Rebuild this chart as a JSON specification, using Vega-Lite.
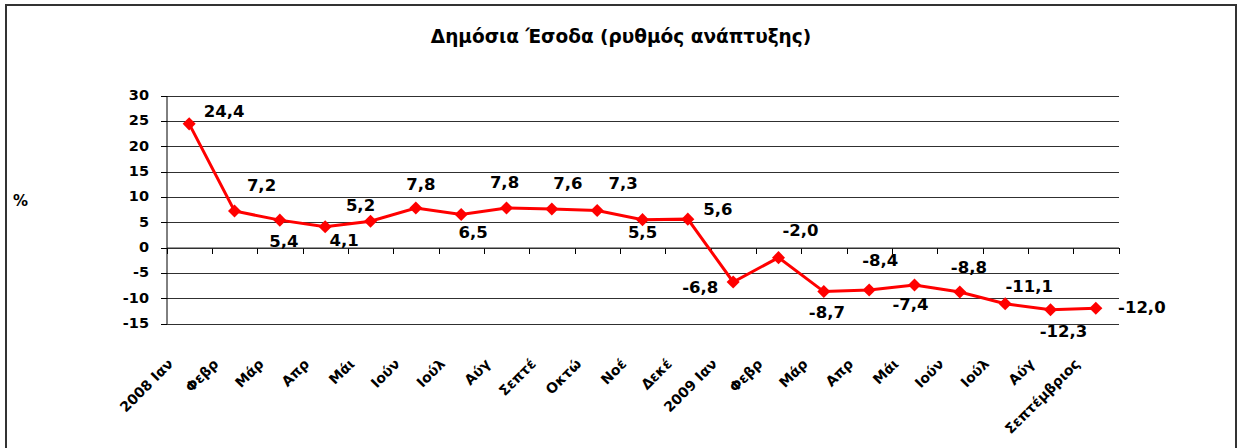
{
  "$schema": "https://vega.github.io/schema/vega-lite/v6.json",
  "width": 1230,
  "height": 445,
  "autosize": {"type": "none"},
  "padding": {"left": 6, "top": 5, "right": 2, "bottom": 0},
  "background": "white",
  "title": {
    "text": "Δημόσια Έσοδα (ρυθμός ανάπτυξης)",
    "anchor": "middle",
    "frame": "group",
    "offset": -56,
    "baseline": "alphabetic",
    "font": "DejaVu Sans",
    "fontSize": 18.5,
    "fontWeight": "bold",
    "color": "#000000"
  },
  "data": {
    "values": [
      {"month": "2008 Ιαν", "value": 24.4},
      {"month": "2008 Φεβρ", "value": 7.2},
      {"month": "2008 Μάρ", "value": 5.4},
      {"month": "2008 Απρ", "value": 4.1},
      {"month": "2008 Μάι", "value": 5.2},
      {"month": "2008 Ιούν", "value": 7.8},
      {"month": "2008 Ιούλ", "value": 6.5},
      {"month": "2008 Αύγ", "value": 7.8},
      {"month": "2008 Σεπτέ", "value": 7.6},
      {"month": "2008 Οκτώ", "value": 7.3},
      {"month": "2008 Νοέ", "value": 5.5},
      {"month": "2008 Δεκέ", "value": 5.6},
      {"month": "2009 Ιαν", "value": -6.8},
      {"month": "2009 Φεβρ", "value": -2.0},
      {"month": "2009 Μάρ", "value": -8.7},
      {"month": "2009 Απρ", "value": -8.4},
      {"month": "2009 Μάι", "value": -7.4},
      {"month": "2009 Ιούν", "value": -8.8},
      {"month": "2009 Ιούλ", "value": -11.1},
      {"month": "2009 Αύγ", "value": -12.3},
      {"month": "2009 Σεπτέμβριος", "value": -12.0}
    ]
  },
  "layer": [
    {
      "mark": {"type": "line", "color": "#FF0000", "strokeWidth": 3},
      "encoding": {
        "x": {
          "field": "month", "type": "ordinal", "sort": null, "bandPosition": 0.5,
          "scale": {"type": "band", "range": [160.5, 1112.5], "paddingInner": 0, "paddingOuter": 0},
          "axis": {
            "orient": "bottom", "offset": -126.5, "domain": false, "ticks": false, "grid": false, "title": null,
            "labelAngle": -45, "labelAlign": "right", "labelBaseline": "middle",
            "labelPadding": 38, "labelOffset": -18, "labelOverlap": false, "labelLimit": 300,
            "labelFont": "DejaVu Sans", "labelFontWeight": "bold", "labelFontSize": 14, "labelColor": "#000000",
            "labelExpr": "indexof(datum.label, 'Ιαν') >= 0 ? datum.label : substring(datum.label, 5)"
          }
        },
        "y": {
          "field": "value", "type": "quantitative",
          "scale": {"domain": [-15, 30], "range": [318.5, 90.5], "nice": false, "zero": false},
          "axis": {
            "values": [-15, -10, -5, 0, 5, 10, 15, 20, 25, 30],
            "offset": -160.5,
            "grid": true, "gridColor": "#303030", "gridWidth": 1, "gridOpacity": 1,
            "domain": true, "domainColor": "#000000", "domainWidth": 1,
            "ticks": true, "tickSize": 6, "tickColor": "#000000", "tickWidth": 1,
            "labelFont": "DejaVu Sans", "labelFontWeight": "bold", "labelFontSize": 14.5, "labelColor": "#000000",
            "labelPadding": 12,
            "title": "%", "titleAngle": 0, "titleX": -146.5, "titleY": 195,
            "titleAlign": "center", "titleBaseline": "middle",
            "titleFont": "DejaVu Sans", "titleFontSize": 15, "titleFontWeight": "bold", "titleColor": "#000000"
          }
        }
      }
    },
    {
      "mark": {"type": "point", "shape": "diamond", "filled": true, "color": "#FF0000", "size": 170, "opacity": 1},
      "encoding": {
        "x": {
          "field": "month", "type": "ordinal", "sort": null, "bandPosition": 0.5,
          "scale": {"type": "band", "range": [160.5, 1112.5], "paddingInner": 0, "paddingOuter": 0},
          "axis": {
            "orient": "bottom", "offset": -202.5, "labels": false, "title": null, "grid": false,
            "ticks": true, "tickBand": "extent", "tickSize": 6, "tickColor": "#000000", "tickWidth": 1,
            "domain": true, "domainColor": "#303030", "domainWidth": 1
          }
        },
        "y": {"field": "value", "type": "quantitative"}
      }
    },
    {
      "mark": {
        "type": "text", "font": "DejaVu Sans", "fontWeight": "bold", "fontSize": 16.5, "color": "#000000",
        "align": "center", "baseline": "middle",
        "dx": {"expr": "[35,27,4,19,-10,5,12,-2,16,26,0,30,-33,22,3,11,-4,9,24,13,46][indexof(['2008 Ιαν','2008 Φεβρ','2008 Μάρ','2008 Απρ','2008 Μάι','2008 Ιούν','2008 Ιούλ','2008 Αύγ','2008 Σεπτέ','2008 Οκτώ','2008 Νοέ','2008 Δεκέ','2009 Ιαν','2009 Φεβρ','2009 Μάρ','2009 Απρ','2009 Μάι','2009 Ιούν','2009 Ιούλ','2009 Αύγ','2009 Σεπτέμβριος'], datum.month)]"},
        "dy": {"expr": "[-12,-25,22,14,-15,-23,18,-25,-25,-27,13,-9,6,-27,21,-29,20,-24,-17,22,0][indexof(['2008 Ιαν','2008 Φεβρ','2008 Μάρ','2008 Απρ','2008 Μάι','2008 Ιούν','2008 Ιούλ','2008 Αύγ','2008 Σεπτέ','2008 Οκτώ','2008 Νοέ','2008 Δεκέ','2009 Ιαν','2009 Φεβρ','2009 Μάρ','2009 Απρ','2009 Μάι','2009 Ιούν','2009 Ιούλ','2009 Αύγ','2009 Σεπτέμβριος'], datum.month)]"}
      },
      "encoding": {
        "x": {
          "field": "month", "type": "ordinal", "sort": null, "bandPosition": 0.5,
          "scale": {"type": "band", "range": [160.5, 1112.5], "paddingInner": 0, "paddingOuter": 0},
          "axis": null
        },
        "y": {"field": "value", "type": "quantitative"},
        "text": {"field": "value", "type": "quantitative", "format": ".1f"}
      }
    }
  ],
  "resolve": {"axis": {"x": "independent"}},
  "config": {
    "view": {"stroke": "#333333", "strokeWidth": 2},
    "locale": {"number": {"decimal": ",", "thousands": ".", "grouping": [3], "currency": ["", " €"], "minus": "-"}}
  }
}
